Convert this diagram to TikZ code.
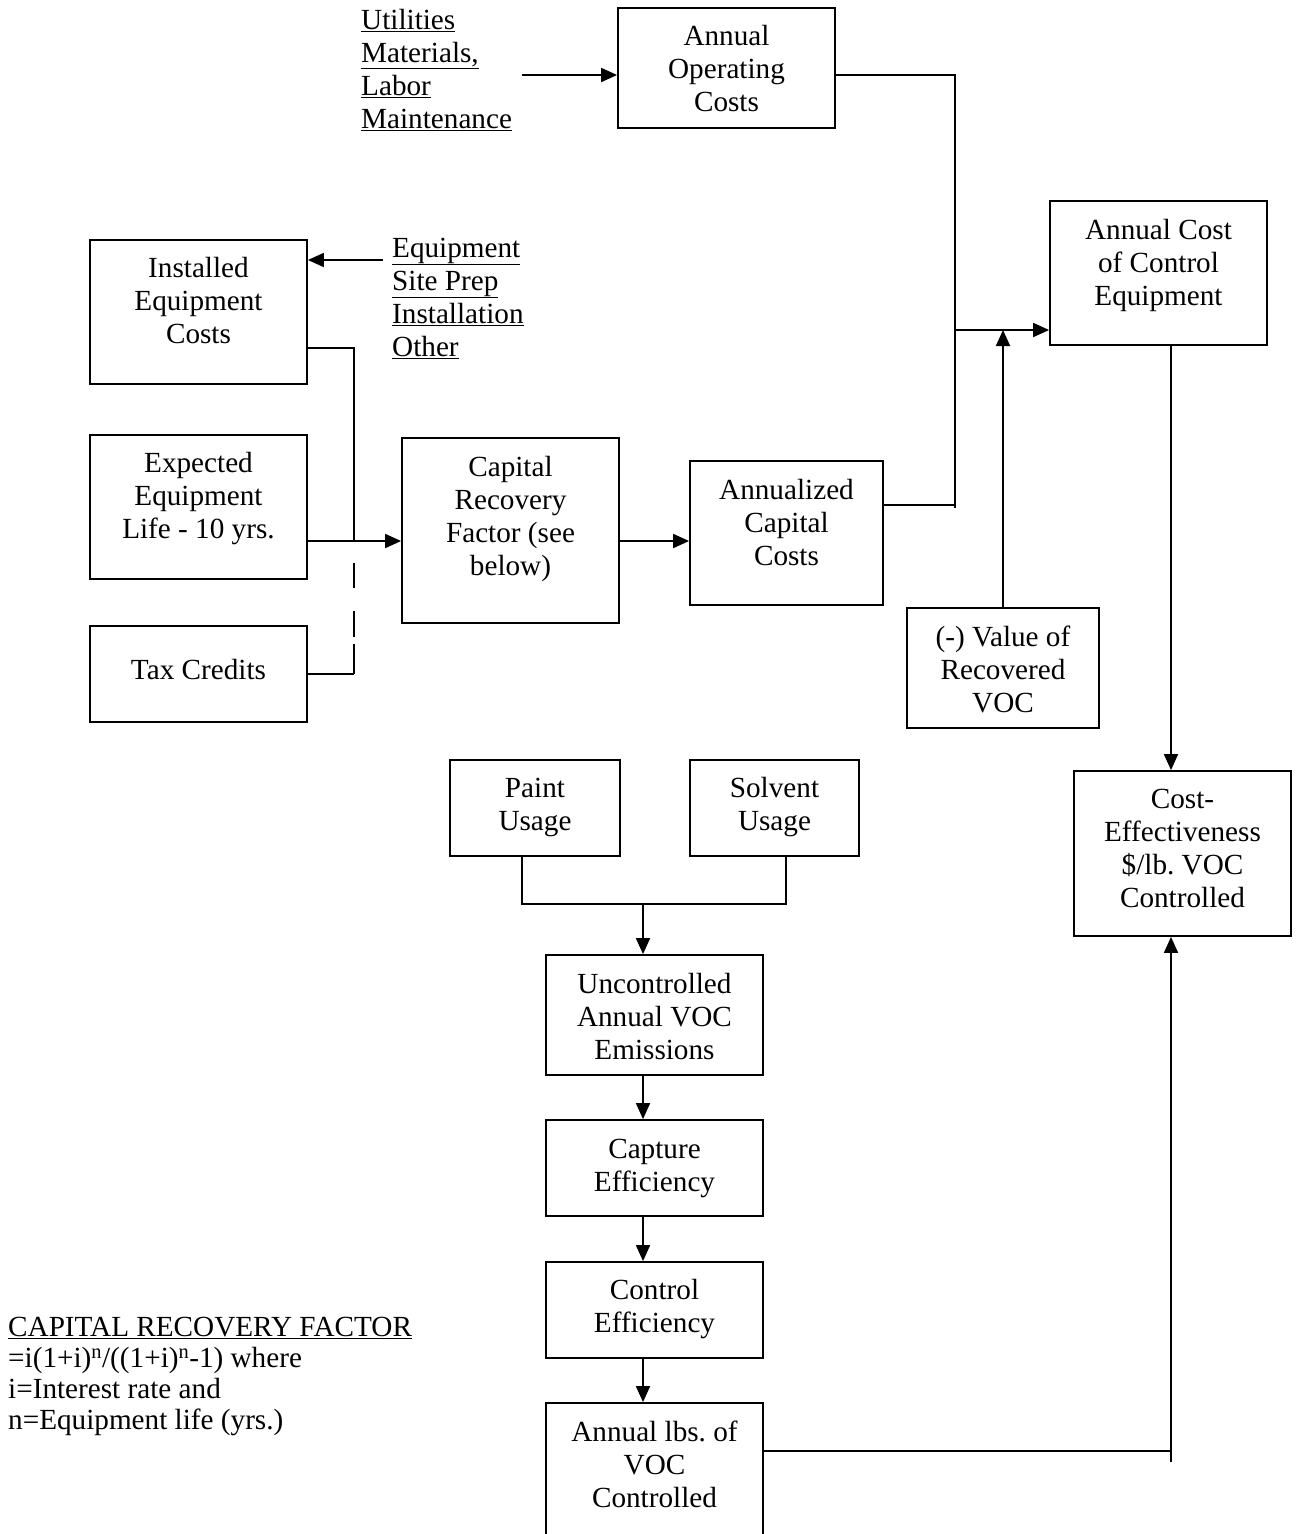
\documentclass[tikz,border=0pt]{standalone}
\usepackage{fontspec}
\setmainfont{Liberation Serif}
\usetikzlibrary{arrows.meta}
\frenchspacing
\begin{document}
\begin{tikzpicture}[x=1pt,y=-1pt,
  box/.style={draw, line width=1.8pt, inner sep=0pt},
  txt/.style={align=center, inner sep=0pt, font=\fontsize{29.2}{33}\selectfont},
  lbl/.style={align=left, inner sep=0pt, anchor=west, font=\fontsize{29.2}{33}\selectfont},
  ln/.style={line width=1.8pt},
  arr/.style={ln, -{Triangle[length=16pt,width=14pt]}}]
\fill[white] (0,0) rectangle (1298,1534);
\useasboundingbox (0,0) rectangle (1298,1534);

% boxes
\node[box, minimum width=217pt, minimum height=120pt] (opc) at (726.5,68) {};
\node[txt] (opct) at (726.5,69) {Annual\\Operating\\Costs};
\node[box, minimum width=217pt, minimum height=144pt] (inst) at (198.5,312) {};
\node[txt] (instt) at (198.5,301) {Installed\\Equipment\\Costs};
\node[box, minimum width=217pt, minimum height=144pt] (exp) at (198.5,507) {};
\node[txt] (expt) at (198.5,499) {Expected\\Equipment\\Life - 10 yrs.};
\node[box, minimum width=217pt, minimum height=96pt] (tax) at (198.5,674) {};
\node[txt] (taxt) at (198.5,670) {Tax Credits};
\node[box, minimum width=217pt, minimum height=185pt] (crf) at (510.5,530.5) {};
\node[txt] (crft) at (510.5,518.5) {Capital\\Recovery\\Factor (see\\below)};
\node[box, minimum width=193pt, minimum height=144pt] (ann) at (786.5,533) {};
\node[txt] (annt) at (786.5,523) {Annualized\\Capital\\Costs};
\node[box, minimum width=217pt, minimum height=144pt] (acc) at (1158.5,273) {};
\node[txt] (acct) at (1158.5,265) {Annual Cost\\of Control\\Equipment};
\node[box, minimum width=192pt, minimum height=120pt] (val) at (1003,668) {};
\node[txt] (valt) at (1003,669) {(-) Value of\\Recovered\\VOC};
\node[box, minimum width=217pt, minimum height=165pt] (ce) at (1182.5,853.5) {};
\node[txt] (cet) at (1182.5,848.5) {Cost-\\Effectiveness\\\$/lb.\ VOC\\Controlled};
\node[box, minimum width=170pt, minimum height=96pt] (paint) at (535,808) {};
\node[txt] (paintt) at (535,807.5) {Paint\\Usage};
\node[box, minimum width=169pt, minimum height=96pt] (solv) at (774.5,808) {};
\node[txt] (solvt) at (774.5,807.5) {Solvent\\Usage};
\node[box, minimum width=217pt, minimum height=120pt] (unc) at (654.5,1015) {};
\node[txt] (unct) at (654.5,1016.5) {Uncontrolled\\Annual VOC\\Emissions};
\node[box, minimum width=217pt, minimum height=96pt] (cap) at (654.5,1168) {};
\node[txt] (capt) at (654.5,1168.5) {Capture\\Efficiency};
\node[box, minimum width=217pt, minimum height=96pt] (ctl) at (654.5,1310) {};
\node[txt] (ctlt) at (654.5,1309.5) {Control\\Efficiency};
\node[box, minimum width=217pt, minimum height=136pt] (lbs) at (654.5,1471) {};
\node[txt] (lbst) at (654.5,1464) {Annual lbs.\ of\\VOC\\Controlled};

% free labels
\node[lbl] (util) at (361,70) {\underline{Utilities}\\\underline{Materials,}\\\underline{Labor}\\\underline{Maintenance}};
\node[lbl] (equip) at (392,298) {\underline{Equipment}\\\underline{Site Prep}\\\underline{Installation}\\\underline{Other}};
\node[lbl, font=\fontsize{29.2}{31}\selectfont] (note) at (8,1376) {\underline{CAPITAL RECOVERY FACTOR}\\=i(1+i)\textsuperscript{n}/((1+i)\textsuperscript{n}-1) where\\i=Interest rate and\\n=Equipment life (yrs.)};

% junction coordinates
\coordinate (u1) at (522,75);
\coordinate (jA) at (955,75);
\coordinate (jAend) at (955,508);
\coordinate (jB) at (955,330);
\coordinate (jC) at (955,505);
\coordinate (e1) at (383,260);
\coordinate (jD) at (354,348);
\coordinate (jE) at (354,541);
\coordinate (jF) at (354,674);
\coordinate (jG) at (354,563);
\coordinate (jH) at (1171,1451);
\coordinate (jI) at (1171,1462);
\coordinate (jJ) at (522,904);
\coordinate (jK) at (786,904);
\coordinate (jL) at (643,904);

% connectors
\draw[arr] (u1) -- (u1 -| opc.west);
\draw[ln] (opc.east |- jA) -- (jA) -- (jAend);
\draw[ln] (jC -| ann.east) -- (jC);
\draw[arr] (jB) -- (jB -| acc.west);
\draw[arr] (val.north) -- (val.north |- jB);

\draw[arr] (e1) -- (e1 -| inst.east);
\draw[ln] (jD -| inst.east) -- (jD) -- (jE);
\draw[arr] (jE -| exp.east) -- (jE -| crf.west);
\draw[ln] (jF -| tax.east) -- (jF);
\draw[ln, dash pattern=on 25pt off 23pt on 26pt off 7pt on 40pt] (jG) -- (jF);
\draw[arr] (jE -| crf.east) -- (jE -| ann.west);

\draw[arr] (acc.south -| jH) -- (ce.north -| jH);
\draw[ln] (jH -| lbs.east) -- (jH) -- (jI);
\draw[arr] (jI) -- (ce.south -| jI);

\draw[ln] (paint.south -| jJ) -- (jJ) -- (jK) -- (solv.south -| jK);
\draw[arr] (jL) -- (unc.north -| jL);
\draw[arr] (unc.south -| jL) -- (cap.north -| jL);
\draw[arr] (cap.south -| jL) -- (ctl.north -| jL);
\draw[arr] (ctl.south -| jL) -- (lbs.north -| jL);
\end{tikzpicture}
\end{document}
